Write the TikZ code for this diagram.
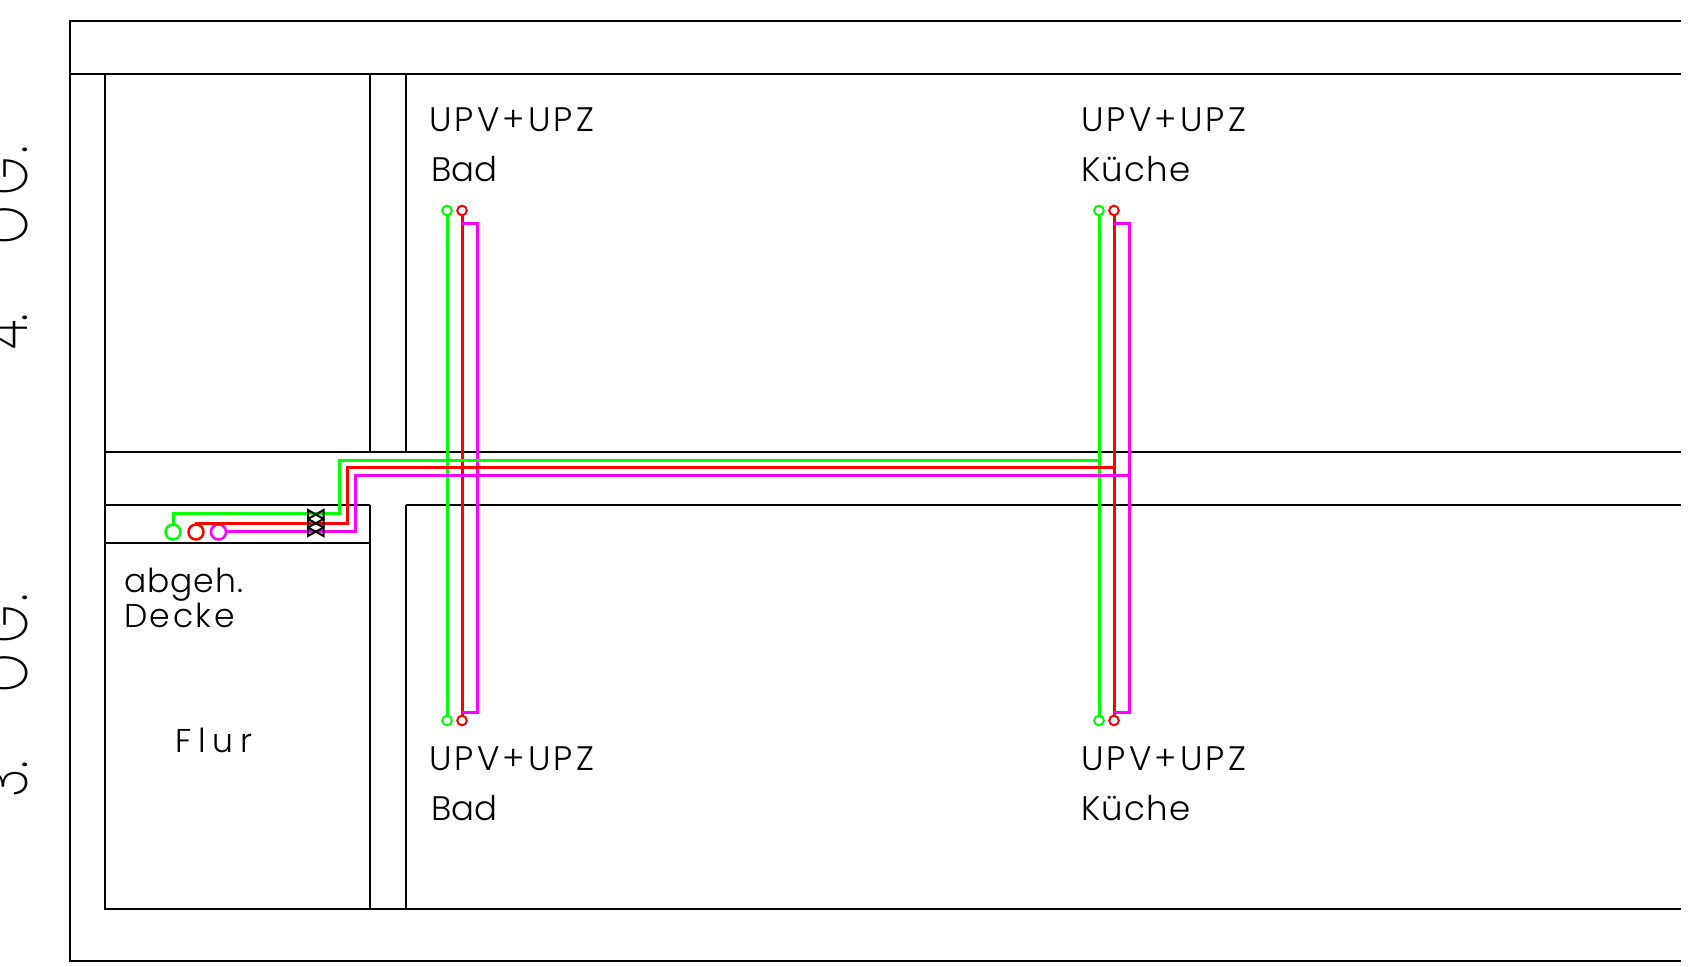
\documentclass[tikz,border=0pt]{standalone}
\usepackage{fontspec}
\newfontfamily\cad{Poppins Light}
\newfontfamily\cadthin{Poppins ExtraLight}
\tikzset{
 x=0.5pt,y=-0.5pt,
 wall/.style={draw=black,line width=1pt},
 gp/.style={draw=green,line width=1.5pt},
 rp/.style={draw=red,line width=1.5pt},
 mp/.style={draw=magenta,line width=1.5pt},
 endbig/.style={circle,line width=1.25pt,fill=none,minimum size=7.5pt,inner sep=0pt,outer sep=0pt},
 endsmall/.style={circle,line width=1pt,fill=none,minimum size=4.8pt,inner sep=0pt,outer sep=0pt},
 lab/.style={anchor=base west,inner sep=0pt,outer sep=0pt,font=\cad\fontsize{17}{18}\selectfont},
 labs/.style={anchor=base west,inner sep=0pt,outer sep=0pt,font=\cad\fontsize{16.5}{17}\selectfont},
 flr/.style={anchor=base west,rotate=90,inner sep=0pt,outer sep=0pt,font=\cadthin\fontsize{32.5}{33}\selectfont},
 valve/.style={draw=black,line width=1pt},
}
\definecolor{green}{RGB}{0,255,0}
\definecolor{red}{RGB}{255,0,0}
\definecolor{magenta}{RGB}{255,0,255}
\newcommand{\upvupz}{\addfontfeature{LetterSpace=9.5}UPV+UPZ}
\newcommand{\kueche}{\addfontfeature{LetterSpace=4}Küche}
\begin{document}
\begin{tikzpicture}
\clip (0,0) rectangle (1703,967);
\fill[white] (0,0) rectangle (1703,967);
% walls
\draw[wall] (1681,21) -- (70,21) -- (70,961) -- (1681,961);
\draw[wall] (70,74) -- (1681,74);
\draw[wall] (105,74) -- (105,909) -- (1681,909);
\draw[wall] (370,74) -- (370,452);
\draw[wall] (406,74) -- (406,452);
\draw[wall] (370,505) -- (370,909);
\draw[wall] (406,505) -- (406,909);
\draw[wall] (105,452) -- (1681,452);
\draw[wall] (105,505) -- (370,505);
\draw[wall] (406,505) -- (1681,505);
\draw[wall] (105,543) -- (370,543);
% end circles
\node[endbig,draw=green] (gs) at (173,532) {};
\node[endbig,draw=red] (rs) at (196,532) {};
\node[endbig,draw=magenta] (ms) at (218.5,532) {};
\node[endsmall,draw=green] (g1t) at (447,210.5) {};
\node[endsmall,draw=red] (r1t) at (462,210.5) {};
\node[endsmall,draw=green] (g1b) at (447,720.5) {};
\node[endsmall,draw=red] (r1b) at (462,720.5) {};
\node[endsmall,draw=green] (g2t) at (1099,210.5) {};
\node[endsmall,draw=red] (r2t) at (1114,210.5) {};
\node[endsmall,draw=green] (g2b) at (1099,720.5) {};
\node[endsmall,draw=red] (r2b) at (1114,720.5) {};
% risers
\draw[gp] (g1t) -- (g1b);
\draw[rp] (r1t) -- (r1b);
\draw[gp] (g2t) -- (g2b);
\draw[rp] (r2t) -- (r2b);
\coordinate (m1a) at (462,223.5); \coordinate (m1b) at (477.5,712);
\coordinate (m2a) at (1114,223.5); \coordinate (m2b) at (1129.5,712);
\draw[mp] (m1a) -| (m1b) -- (m1b -| r1b);
\draw[mp] (m2a) -| (m2b) -- (m2b -| r2b);
% mains
\coordinate (gk1) at (339.5,513.5);
\coordinate (gk2) at (1099,460.5);
\coordinate (rk1) at (347,523.5);
\coordinate (rk2) at (1114,468);
\coordinate (mk1) at (355,532);
\coordinate (mk2) at (1129.5,475.5);
\draw[gp] (gs.north) |- (gk1) |- (gk2);
\draw[rp] (rs.north) -- (rs.north |- rk1) -- (rk1) |- (rk2);
\draw[mp] (ms.east) -- (mk1) |- (mk2);
% valves
\foreach \ya/\yb in {510/519,519/527.5,527.5/536}{
 \draw[valve] (308,\ya) -- (323.5,\yb) -- (323.5,\ya) -- (308,\yb) -- cycle;
}
% labels
\node[lab] (t1) at (429,132) {\upvupz};
\node[lab] (t2) at (431,182) {Bad};
\node[lab] (t3) at (1081,132) {\upvupz};
\node[lab] (t4) at (1081,182) {\kueche};
\node[lab] (t5) at (429,770) {\upvupz};
\node[lab] (t6) at (431,820) {Bad};
\node[lab] (t7) at (1081,770) {\upvupz};
\node[lab] (t8) at (1081,820) {\kueche};
\node[labs] (t9) at (124,593) {\addfontfeature{LetterSpace=3}abgeh.};
\node[labs] (t10) at (124,628) {\addfontfeature{LetterSpace=8}Decke};
\node[labs] (t11) at (175,752) {\addfontfeature{LetterSpace=21}Flur};
\node[flr] (f4) at (27,350) {\scalebox{0.75}[1]{4.\kern46pt O\kern7pt G\kern2.7pt.}};
\node[flr] (f3) at (27,797) {\scalebox{0.75}[1]{3.\kern46pt O\kern7pt G\kern2.7pt.}};
\end{tikzpicture}
\end{document}
